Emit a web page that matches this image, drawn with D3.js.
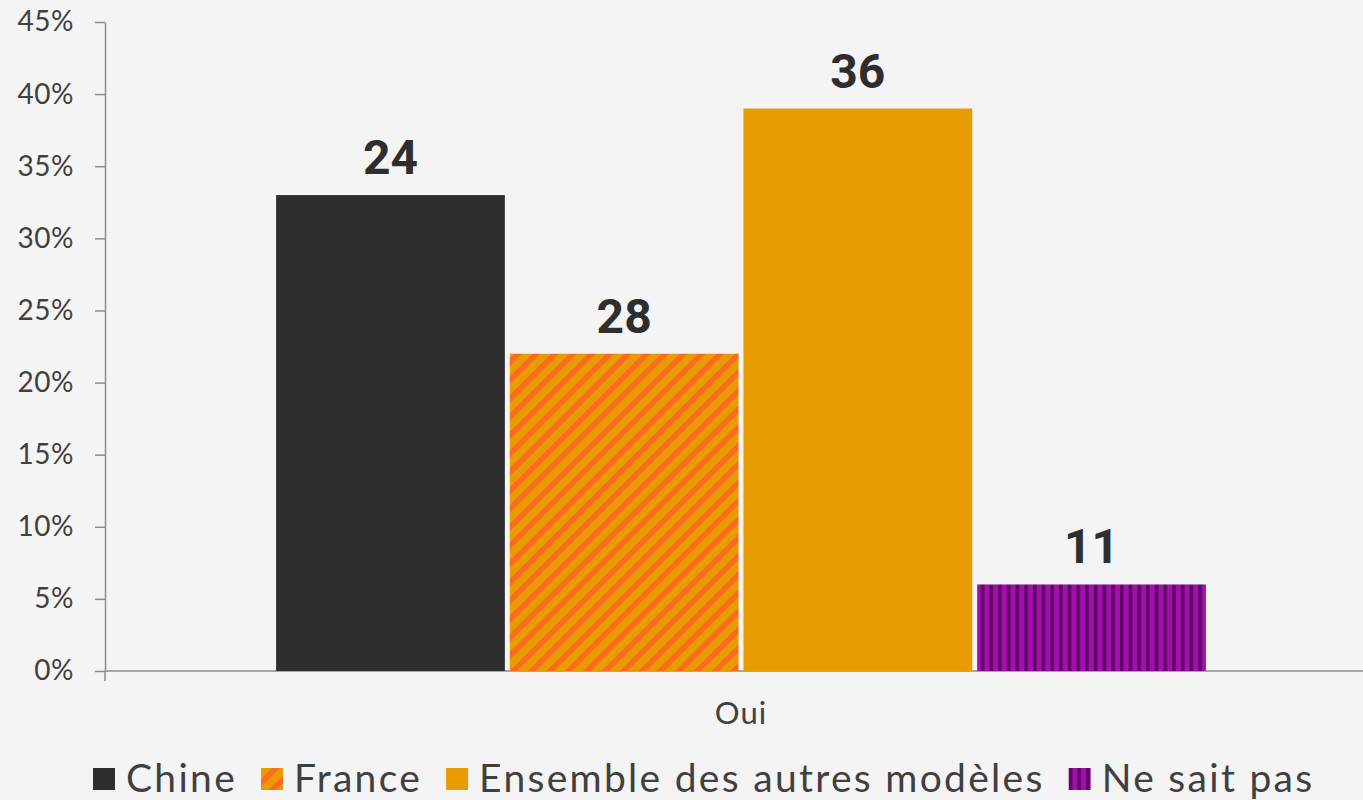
<!DOCTYPE html>
<html>
<head>
<meta charset="utf-8">
<script src="https://cdn.jsdelivr.net/npm/d3@7"></script>
<style>
  body { margin: 0; background: #f4f4f4; }
  svg { display: block; }
</style>
</head>
<body>
<svg id="chart"></svg>
<script>
/*
    LAYOUT
*/
var width = 1363;
var height = 800;
var margin = {top: 22, left: 105};
var plotW = 1272;   // axis runs past the right edge
var plotH = 649;

/*
    DATA
*/
var categories = ["Oui"];
var series = ["Chine", "France", "Ensemble des autres modèles", "Ne sait pas"];
var values = [0.33, 0.22, 0.39, 0.06];       // bar heights
var labels = ["24", "28", "36", "11"];       // labels printed above the bars
var yTicks = [0, 0.05, 0.10, 0.15, 0.20, 0.25, 0.30, 0.35, 0.40, 0.45];

var fills = ["#2e2e2e", "url(#stripeFrance)", "#e89c00", "url(#stripeNsp)"];

var svg = d3.select("#chart")
  .attr("width", width)
  .attr("height", height);

// patterns
var defs = svg.append("defs");

var pf = defs.append("pattern")
  .attr("id", "stripeFrance")
  .attr("patternUnits", "userSpaceOnUse")
  .attr("width", 13).attr("height", 13)
  .attr("patternTransform", "rotate(45)");
pf.append("rect").attr("width", 13).attr("height", 13).attr("fill", "#e89c00");
pf.append("rect").attr("width", 5.5).attr("height", 13).attr("fill", "#fb6a1e");

var pn = defs.append("pattern")
  .attr("id", "stripeNsp")
  .attr("patternUnits", "userSpaceOnUse")
  .attr("width", 8.7).attr("height", 10);
pn.append("rect").attr("width", 8.7).attr("height", 10).attr("fill", "#a20fab");
pn.append("rect").attr("width", 3.6).attr("height", 10).attr("fill", "#5e0766");

var g = svg.append("g")
  .attr("transform", "translate(" + margin.left + "," + margin.top + ")");

/*
    SCALES
*/
var y = d3.scaleLinear().domain([0, 0.45]).range([plotH, 0]);

var x0 = d3.scaleBand().domain(categories).range([0, plotW])
  .paddingInner(0).paddingOuter(0.184);

var x1 = d3.scaleBand().domain(series).range([0, x0.bandwidth()])
  .paddingInner(0.021);

var axisColor = "#8c8c8c";
var tickFont = "Lato, 'DejaVu Sans', sans-serif";

/*
    AXES
*/
var yAxis = g.append("g")
  .call(d3.axisLeft(y).tickValues(yTicks).tickFormat(d3.format(".0%"))
    .tickSizeInner(10).tickSizeOuter(0).tickPadding(21));
yAxis.select(".domain").attr("stroke", axisColor).attr("stroke-width", 1.5);
yAxis.selectAll(".tick line").attr("stroke", axisColor).attr("stroke-width", 1.5);
yAxis.selectAll(".tick text")
  .attr("fill", "#404040")
  .style("font-family", tickFont)
  .style("font-size", "28px")
  .style("letter-spacing", "0.5px");

// x axis line + boundary tick
g.append("line")
  .attr("x1", 0).attr("x2", plotW)
  .attr("y1", plotH).attr("y2", plotH)
  .attr("stroke", axisColor).attr("stroke-width", 1.5);
g.selectAll(".xbound")
  .data([0, plotW])
  .enter().append("line")
  .attr("class", "xbound")
  .attr("x1", function(d) { return d; }).attr("x2", function(d) { return d; })
  .attr("y1", plotH).attr("y2", plotH + 10)
  .attr("stroke", axisColor).attr("stroke-width", 1.5);

g.selectAll(".xcat")
  .data(categories)
  .enter().append("text")
  .attr("class", "xcat")
  .attr("x", function(d) { return x0(d) + x0.bandwidth() / 2; })
  .attr("y", plotH + 53)
  .attr("text-anchor", "middle")
  .attr("fill", "#404040")
  .style("font-family", tickFont)
  .style("font-size", "31px")
  .style("letter-spacing", "1px")
  .text(function(d) { return d; });

/*
    BARS
*/
var rows = series.map(function(s, i) {
  return {series: s, value: values[i], label: labels[i], fill: fills[i]};
});

var grp = g.append("g")
  .attr("transform", "translate(" + x0(categories[0]) + ",0)");

grp.selectAll(".bar")
  .data(rows)
  .enter().append("rect")
  .attr("class", "bar")
  .attr("x", function(d) { return x1(d.series); })
  .attr("y", function(d) { return y(d.value); })
  .attr("width", x1.bandwidth())
  .attr("height", function(d) { return plotH - y(d.value); })
  .attr("fill", function(d) { return d.fill; });

grp.selectAll(".lbl")
  .data(rows)
  .enter().append("text")
  .attr("class", "lbl")
  .attr("x", function(d) { return x1(d.series) + x1.bandwidth() / 2; })
  .attr("y", function(d) { return y(d.value) - 21; })
  .attr("text-anchor", "middle")
  .attr("fill", "#2e2e2e")
  .style("font-family", "Roboto, sans-serif")
  .style("font-weight", "bold")
  .style("font-size", "48px")
  .text(function(d) { return d.label; });

/*
    LEGEND
*/
var legend = svg.append("g").attr("transform", "translate(93,779)");
var lx = 0;
rows.forEach(function(d) {
  var item = legend.append("g").attr("transform", "translate(" + lx + ",0)");
  item.append("rect")
    .attr("x", 0).attr("y", -11)
    .attr("width", 22).attr("height", 22)
    .attr("fill", d.fill);
  var t = item.append("text")
    .attr("x", 33).attr("y", 13)
    .attr("fill", "#404040")
    .style("font-family", tickFont)
    .style("font-size", "39px")
    .style("letter-spacing", "2.3px")
    .text(d.series);
  lx += 33 + t.node().getComputedTextLength() + 24;
});
</script>
</body>
</html>
